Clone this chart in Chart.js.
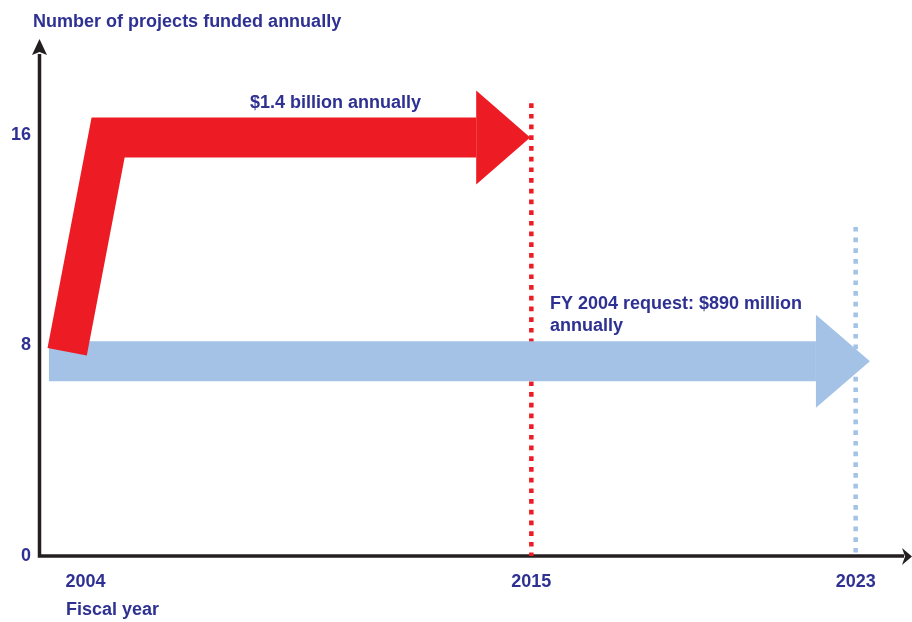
<!DOCTYPE html>
<html lang="en">
<head>
  <meta charset="UTF-8">
  <title>Projects funded annually</title>
  <script src="https://cdn.jsdelivr.net/npm/chart.js"></script>
  <style>
    body { margin: 0; background: #fff; }
    #wrap { width: 912px; height: 622px; position: relative; }
  </style>
</head>
<body>
  <div id="wrap"><canvas id="fundChart"></canvas></div>

  <script>
    // tick values on both axes
    const yearTicks = [2004, 2015, 2023];
    const countTicks = [0, 8, 16];

    // red path: $1.4 billion annually (ends at the arrowhead base)
    const fastYears = [2003.55, 2004.56, 2013.64];
    const fastCounts = [7.76, 15.9, 15.9];

    // blue path: FY 2004 request
    const requestYears = [2003.1, 2022.02];
    const requestCounts = [7.4, 7.4];

    // dotted completion markers
    const fastEndYears = [2015, 2015];
    const fastEndCounts = [17.2, 0];
    const requestEndYears = [2023, 2023];
    const requestEndCounts = [12.5, 0];

    // texts
    const yTitle = 'Number of projects funded annually';
    const xTitle = 'Fiscal year';
    const fastLabel = ['$1.4 billion annually'];
    const requestLabel = ['FY 2004 request: $890 million', 'annually'];

    const navy = '#2e3192';
    const red = '#ed1c24';
    const blue = '#a3c2e6';
    const font = 'bold 18px "Liberation Sans", Arial, sans-serif';

    function pts(xs, ys) {
      return xs.map((x, i) => ({ x: x, y: ys[i] }));
    }

    // arrowhead at the end of a thick band
    const arrowHeads = {
      id: 'arrowHeads',
      afterDatasetDraw(chart, args) {
        const ds = chart.data.datasets[args.index];
        if (!ds.arrowLength) return;
        const els = args.meta.data;
        const a = els[els.length - 2], b = els[els.length - 1];
        const ang = Math.atan2(b.y - a.y, b.x - a.x);
        const ctx = chart.ctx;
        ctx.save();
        ctx.translate(b.x, b.y);
        ctx.rotate(ang);
        ctx.fillStyle = ds.borderColor;
        ctx.beginPath();
        ctx.moveTo(0, -ds.arrowHalf);
        ctx.lineTo(ds.arrowLength, 0);
        ctx.lineTo(0, ds.arrowHalf);
        ctx.closePath();
        ctx.fill();
        ctx.restore();
      }
    };

    // axes with arrow tips
    const axisArrows = {
      id: 'axisArrows',
      beforeDatasetsDraw(chart) {
        const { ctx, chartArea } = chart;
        const x0 = chartArea.left - 0.5, y0 = chartArea.bottom;
        ctx.save();
        ctx.strokeStyle = '#231f20';
        ctx.fillStyle = '#231f20';
        ctx.lineWidth = 3.5;
        ctx.beginPath();
        ctx.moveTo(x0, chartArea.top + 14);
        ctx.lineTo(x0, y0);
        ctx.lineTo(chartArea.right - 8, y0);
        ctx.stroke();
        ctx.beginPath();
        ctx.moveTo(x0, chartArea.top - 1);
        ctx.lineTo(x0 + 7.5, chartArea.top + 15);
        ctx.lineTo(x0, chartArea.top + 12);
        ctx.lineTo(x0 - 7.5, chartArea.top + 15);
        ctx.closePath();
        ctx.fill();
        ctx.beginPath();
        ctx.moveTo(chartArea.right, y0 + 0.5);
        ctx.lineTo(chartArea.right - 10, y0 - 8);
        ctx.lineTo(chartArea.right - 7, y0 + 0.5);
        ctx.lineTo(chartArea.right - 10, y0 + 9);
        ctx.closePath();
        ctx.fill();
        ctx.restore();
      }
    };

    // free texts placed in data coordinates
    const notes = {
      id: 'notes',
      afterDraw(chart, args, opts) {
        const { ctx, scales } = chart;
        ctx.save();
        ctx.font = font;
        ctx.fillStyle = navy;
        ctx.textAlign = 'left';
        ctx.textBaseline = 'alphabetic';
        opts.items.forEach(it => {
          it.lines.forEach((t, i) => {
            ctx.fillText(t, scales.x.getPixelForValue(it.x), scales.y.getPixelForValue(it.y) + i * 22);
          });
        });
        ctx.restore();
      }
    };

    const ctx = document.getElementById('fundChart').getContext('2d');
    const fundChart = new Chart(ctx, {
      type: 'line',
      data: {
        datasets: [
          {
            label: 'FY 2004 request complete',
            data: pts(requestEndYears, requestEndCounts),
            borderColor: blue,
            borderWidth: 4.5,
            borderDash: [4.7, 6],
            borderCapStyle: 'butt',
            pointRadius: 0,
            order: 1
          },
          {
            label: '$1.4 billion annually',
            data: pts(fastYears, fastCounts),
            borderColor: red,
            borderWidth: 40,
            borderCapStyle: 'butt',
            borderJoinStyle: 'miter',
            pointRadius: 0,
            tension: 0,
            arrowLength: 54,
            arrowHalf: 47,
            order: 2
          },
          {
            label: 'FY 2004 request: $890 million annually',
            data: pts(requestYears, requestCounts),
            borderColor: blue,
            borderWidth: 40,
            borderCapStyle: 'butt',
            pointRadius: 0,
            arrowLength: 54,
            arrowHalf: 46.5,
            order: 3
          },
          {
            label: '$1.4 billion complete',
            data: pts(fastEndYears, fastEndCounts),
            borderColor: red,
            borderWidth: 4.5,
            borderDash: [4.7, 6],
            borderCapStyle: 'butt',
            pointRadius: 0,
            order: 4
          }
        ]
      },
      options: {
        responsive: true,
        maintainAspectRatio: false,
        animation: false,
        layout: { padding: { top: 40, left: 0, right: 0, bottom: 0 } },
        plugins: {
          legend: { display: false },
          tooltip: { enabled: false },
          notes: {
            items: [
              { lines: [yTitle], x: 2002.71, y: 20.1 },
              { lines: fastLabel, x: 2008.06, y: 17.02 },
              { lines: requestLabel, x: 2015.46, y: 9.38 },
              { lines: [xTitle], x: 2003.52, y: -2.24 }
            ]
          }
        },
        scales: {
          x: {
            type: 'linear',
            min: 2002.88,
            max: 2024.39,
            grid: { display: false, drawTicks: false },
            border: { display: false },
            afterBuildTicks: s => { s.ticks = yearTicks.map(v => ({ value: v })); },
            afterFit: s => { s.height = 66; },
            ticks: {
              padding: 15,
              color: navy,
              font: { family: '"Liberation Sans", Arial, sans-serif', size: 18, weight: 'bold' },
              callback: v => String(v)
            }
          },
          y: {
            min: 0,
            max: 19.6,
            grid: { display: false, drawTicks: false },
            border: { display: false },
            afterBuildTicks: s => { s.ticks = countTicks.map(v => ({ value: v })); },
            afterFit: s => { s.width = 40; },
            ticks: {
              padding: 9,
              color: navy,
              font: { family: '"Liberation Sans", Arial, sans-serif', size: 18, weight: 'bold' },
              callback: v => String(v)
            }
          }
        }
      },
      plugins: [axisArrows, arrowHeads, notes]
    });
  </script>
</body>
</html>
